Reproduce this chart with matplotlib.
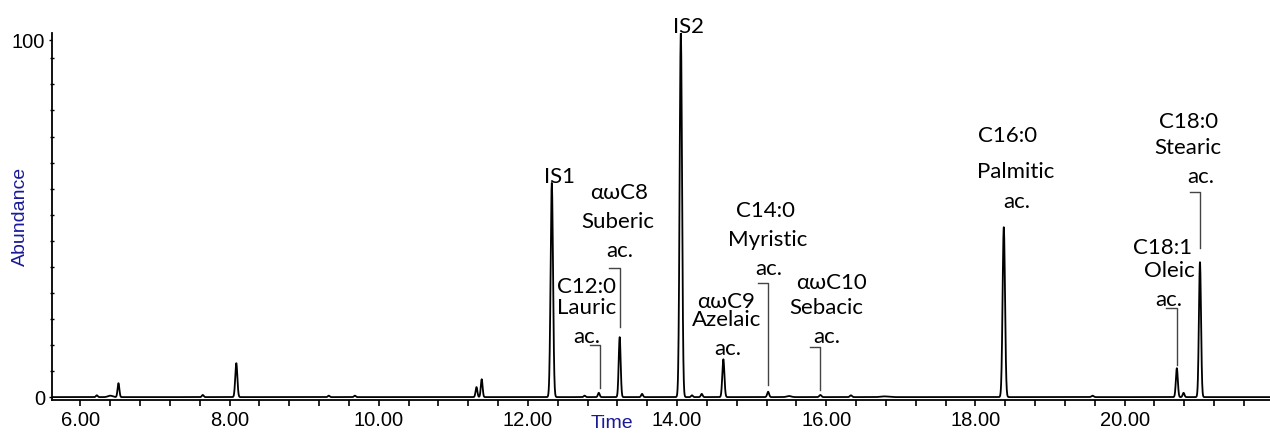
import numpy as np
import matplotlib
matplotlib.use('Agg')
import matplotlib.pyplot as plt
from matplotlib.ticker import MultipleLocator, FixedLocator

plt.rcParams['font.family'] = ['Liberation Sans', 'DejaVu Sans']

# Peak table: retention time (min), relative abundance, sigma (min)
peak_rt = [6.22, 6.40, 6.51, 7.64, 8.09, 9.33, 9.68, 11.31, 11.38, 12.32, 12.76, 12.95,
           13.23, 13.53, 14.05, 14.20, 14.33, 14.62, 15.22, 15.50, 15.92, 16.33, 16.78,
           18.38, 19.57, 20.70, 20.79, 21.01]
peak_height = [0.5, 0.4, 3.9, 0.6, 9.5, 0.4, 0.4, 2.8, 5.0, 60.0, 0.4, 1.2,
               16.8, 0.9, 102.0, 0.5, 0.9, 10.6, 1.5, 0.3, 0.6, 0.5, 0.2,
               47.6, 0.4, 8.1, 1.2, 37.8]
peak_sigma = [0.012, 0.03, 0.012, 0.012, 0.014, 0.012, 0.012, 0.012, 0.012, 0.016, 0.012, 0.012,
              0.013, 0.012, 0.016, 0.012, 0.012, 0.014, 0.013, 0.03, 0.014, 0.014, 0.05,
              0.016, 0.015, 0.013, 0.012, 0.014]

# Labelled compounds: peak time and the three label lines
lab_rt = [12.97, 13.23, 15.22, 14.62, 15.92, 18.38, 20.70, 21.01]
lab_lines = [["C12:0", "Lauric", "ac."],
             ["αωC8", "Suberic", "ac."],
             ["C14:0", "Myristic", "ac."],
             ["αωC9", "Azelaic", "ac."],
             ["αωC10", "Sebacic", "ac."],
             ["C16:0", "Palmitic", "ac."],
             ["C18:1", "Oleic", "ac."],
             ["C18:0", "Stearic", "ac."]]
# label layout: x of each line, y of each line, bracket (top, bottom) or None
lab_x = [[12.78, 12.79, 12.79], [13.22, 13.21, 13.23], [15.19, 15.22, 15.23],
         [14.66, 14.67, 14.68], [16.07, 16.00, 16.00], [18.43, 18.54, 18.55],
         [20.51, 20.60, 20.59], [20.86, 20.85, 21.02]]
lab_y = [[30.8, 24.9, 16.8], [57.1, 49.0, 40.9], [52.1, 44.0, 35.9],
         [26.6, 21.6, 13.4], [31.9, 24.9, 16.8], [73.1, 63.0, 54.6],
         [41.7, 35.3, 27.2], [77.0, 69.7, 61.6]]
bracket = [(14.6, 2.5), (36.1, 19.6), (31.9, 3.4), None, (14.0, 2.0), None,
           (24.9, 9.0), (57.4, 41.7)]

t = np.arange(5.6, 22.0, 0.002)
signal = np.zeros_like(t)
for rt, h, s in zip(peak_rt, peak_height, peak_sigma):
    signal += h * np.exp(-0.5 * ((t - rt) / s) ** 2)

fig = plt.figure(figsize=(12.7, 4.4), dpi=100)
ax = fig.add_axes([0.041, 0.091, 0.962, 0.834])
ax.plot(t, signal, color='black', linewidth=1.3)

ax.set_xlim(5.62, 22.0)
ax.set_ylim(-0.8, 102)
for s in ['top', 'right']:
    ax.spines[s].set_visible(False)
ax.spines['left'].set_linewidth(1.3)
ax.spines['bottom'].set_linewidth(1.3)

ax.xaxis.set_major_locator(FixedLocator([6, 8, 10, 12, 14, 16, 18, 20]))
ax.xaxis.set_minor_locator(MultipleLocator(0.4))
ax.set_xticklabels(["6.00", "8.00", "10.00", "12.00", "14.00", "16.00", "18.00", "20.00"])
ax.tick_params(axis='x', which='both', direction='out', length=4, width=1.2, labelsize=14.5, pad=4)
ax.yaxis.set_major_locator(FixedLocator([0, 100]))
ax.yaxis.set_minor_locator(MultipleLocator(7.3))
ax.set_yticklabels(["0", "100"])
ax.tick_params(axis='y', which='major', direction='out', length=2, width=1, labelsize=14.5, pad=3)
ax.tick_params(axis='y', which='minor', direction='inout', length=3, width=1)

ax.text(-0.0255, 0.5, "Abundance", transform=ax.transAxes, ha='center', va='center',
        rotation=90, color='#1a1a99', fontsize=14)
ax.text(0.458, -0.063, "Time", transform=ax.transAxes, ha='center', va='center',
        color='#1a1a99', fontsize=14)

afont = ['Lato', 'DejaVu Sans']
ax.text(12.42, 60.0, "IS1", ha='center', va='baseline', fontsize=16, family=afont)
ax.text(14.15, 102.0, "IS2", ha='center', va='baseline', fontsize=16, family=afont, clip_on=False)

for rt, lines, xs, ys, br in zip(lab_rt, lab_lines, lab_x, lab_y, bracket):
    for txt, x, y in zip(lines, xs, ys):
        ax.text(x, y, txt, ha='center', va='center', fontsize=16, family=afont)
    if br is not None:
        top, bottom = br
        ax.plot([rt - 0.14, rt, rt], [top, top, bottom], color='#444444', linewidth=1.0)

fig.savefig('out.png', dpi=100)
